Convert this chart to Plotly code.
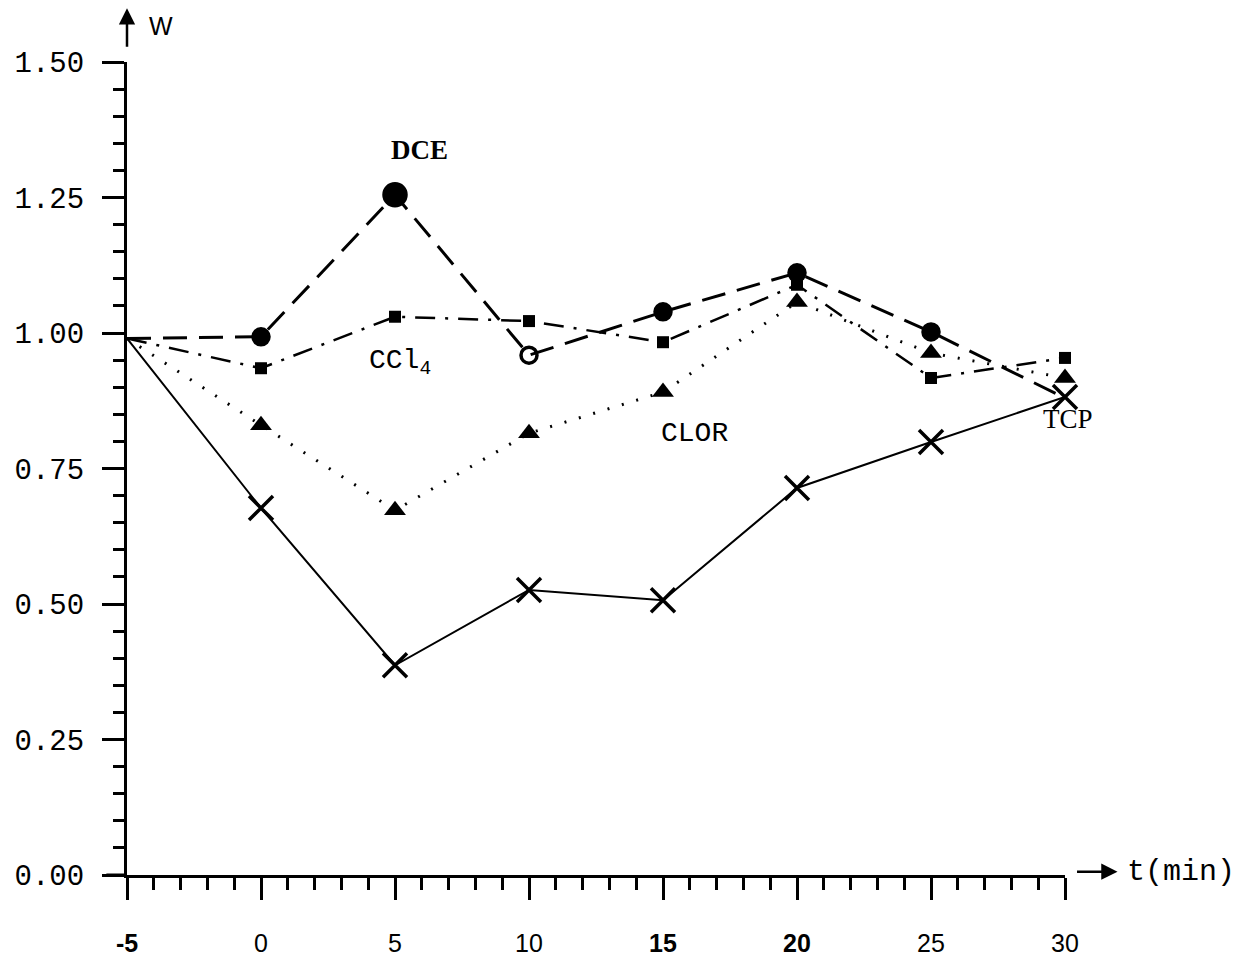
import plotly.graph_objects as go

# Time axis (min) and relative response W for each solvent
t = [-5, 0, 5, 10, 15, 20, 25, 30]
dce = [0.99, 0.993, 1.255, 0.959, 1.039, 1.111, 1.002, 0.88]
ccl4 = [0.99, 0.935, 1.030, 1.022, 0.983, 1.089, 0.917, 0.954]
clor = [0.99, 0.830, 0.673, 0.815, 0.891, 1.057, 0.963, 0.917]
tcp = [0.99, 0.677, 0.387, 0.526, 0.507, 0.714, 0.799, 0.882]

# DCE marker styles per point (no marker at the common starting point or at 30)
dce_symbols = ["circle", "circle", "circle", "circle-open", "circle", "circle", "circle", "circle"]
dce_sizes = [0, 16, 22, 16, 16, 16, 16, 0]

x_tick_vals = [-5, 0, 5, 10, 15, 20, 25, 30]
x_tick_text = ["<b>-5</b>", "0", "5", "10", "<b>15</b>", "<b>20</b>", "25", "30"]
y_tick_vals = [0.0, 0.25, 0.5, 0.75, 1.0, 1.25, 1.5]
y_tick_text = ["0.00", "0.25", "0.50", "0.75", "1.00", "1.25", "1.50"]

BLACK = "#000000"

fig = go.Figure()

# TCP: solid thin line with X markers
fig.add_trace(go.Scatter(
    x=t, y=tcp, mode="lines", line=dict(color=BLACK, width=2), cliponaxis=False,
))
fig.add_trace(go.Scatter(
    x=t[1:], y=tcp[1:], mode="markers", cliponaxis=False,
    marker=dict(symbol="x-thin", size=24, opacity=1, line=dict(color=BLACK, width=3.5)),
))

# CLOR: dotted line with filled triangles
fig.add_trace(go.Scatter(
    x=t, y=clor, mode="lines", cliponaxis=False,
    line=dict(color=BLACK, width=3, dash="2px,13px"),
))
fig.add_trace(go.Scatter(
    x=t[1:], y=clor[1:], mode="markers", cliponaxis=False,
    marker=dict(symbol="triangle-up", size=19, color=BLACK, opacity=1),
))

# CCl4: dash-dot line with filled squares
fig.add_trace(go.Scatter(
    x=t, y=ccl4, mode="lines", cliponaxis=False,
    line=dict(color=BLACK, width=2.5, dash="20px,10px,3px,10px"),
))
fig.add_trace(go.Scatter(
    x=t[1:], y=ccl4[1:], mode="markers", cliponaxis=False,
    marker=dict(symbol="square", size=12, color=BLACK, opacity=1),
))

# DCE: long dashed line with circles
fig.add_trace(go.Scatter(
    x=t, y=dce, mode="lines", cliponaxis=False,
    line=dict(color=BLACK, width=3, dash="24px,12px"),
))
fig.add_trace(go.Scatter(
    x=t, y=dce, mode="markers", cliponaxis=False,
    marker=dict(symbol=dce_symbols, size=dce_sizes, color=BLACK, opacity=1,
                line=dict(color=BLACK, width=3.5)),
))

axis_common = dict(
    showgrid=False, zeroline=False, showline=True, linecolor=BLACK, linewidth=3,
    ticks="outside", tickcolor=BLACK, tickwidth=2.5, ticklen=22, automargin=False,
)

fig.update_xaxes(
    range=[-5, 30], tickvals=x_tick_vals, ticktext=x_tick_text,
    tickfont=dict(family="Liberation Sans", size=25, color=BLACK),
    ticklabelstandoff=22,
    minor=dict(dtick=1, ticks="outside", ticklen=12, tickwidth=2.5, tickcolor=BLACK),
    **axis_common,
)
fig.update_yaxes(
    range=[0, 1.5], tickvals=y_tick_vals, ticktext=y_tick_text,
    tickfont=dict(family="Liberation Mono", size=29, color=BLACK),
    ticklabelstandoff=12,
    minor=dict(dtick=0.05, ticks="outside", ticklen=11, tickwidth=2.5, tickcolor=BLACK),
    **axis_common,
)

annotations = [
    dict(x=5.93, y=1.338, xref="x", yref="y", text="<b>DCE</b>", showarrow=False,
         xanchor="center", yanchor="middle",
         font=dict(family="Liberation Serif", size=27, color=BLACK)),
    dict(x=3.95, y=0.945, xref="x", yref="y", text="CCl<sub>4</sub>", showarrow=False,
         xanchor="left", yanchor="middle",
         font=dict(family="Liberation Mono", size=28, color=BLACK)),
    dict(x=16.16, y=0.8155, xref="x", yref="y", text="CLOR", showarrow=False,
         xanchor="center", yanchor="middle",
         font=dict(family="Liberation Mono", size=28, color=BLACK)),
    dict(x=30, y=0.841, xref="x", yref="y", xshift=3, text="TCP", showarrow=False,
         xanchor="center", yanchor="middle",
         font=dict(family="Liberation Serif", size=27, color=BLACK)),
    # axis titles
    dict(x=0.021, y=1.044, xref="paper", yref="paper", text="W", showarrow=False,
         xanchor="left", yanchor="middle",
         font=dict(family="Liberation Sans", size=25, color=BLACK)),
    dict(x=1.064, y=0.004, xref="paper", yref="paper", text="t(min)", showarrow=False,
         xanchor="left", yanchor="middle",
         font=dict(family="Liberation Mono", size=30, color=BLACK)),
    # axis arrows
    dict(x=1.056, y=0.004, xref="paper", yref="paper", ax=-42, ay=0, text="",
         showarrow=True, arrowhead=2, arrowsize=1.3, arrowwidth=2.5, arrowcolor=BLACK),
    dict(x=0.0, y=1.066, xref="paper", yref="paper", ax=0, ay=40, text="",
         showarrow=True, arrowhead=2, arrowsize=1.3, arrowwidth=2.5, arrowcolor=BLACK),
]

fig.update_layout(
    width=1245, height=957,
    margin=dict(l=127, r=180, t=62, b=82, autoexpand=False),
    paper_bgcolor="white", plot_bgcolor="white",
    showlegend=False,
    annotations=annotations,
    shapes=[dict(type="line", xref="paper", yref="paper", x0=-0.022, x1=0, y0=0, y1=0,
                 line=dict(color=BLACK, width=3))],
)

fig.write_html("out.html")
